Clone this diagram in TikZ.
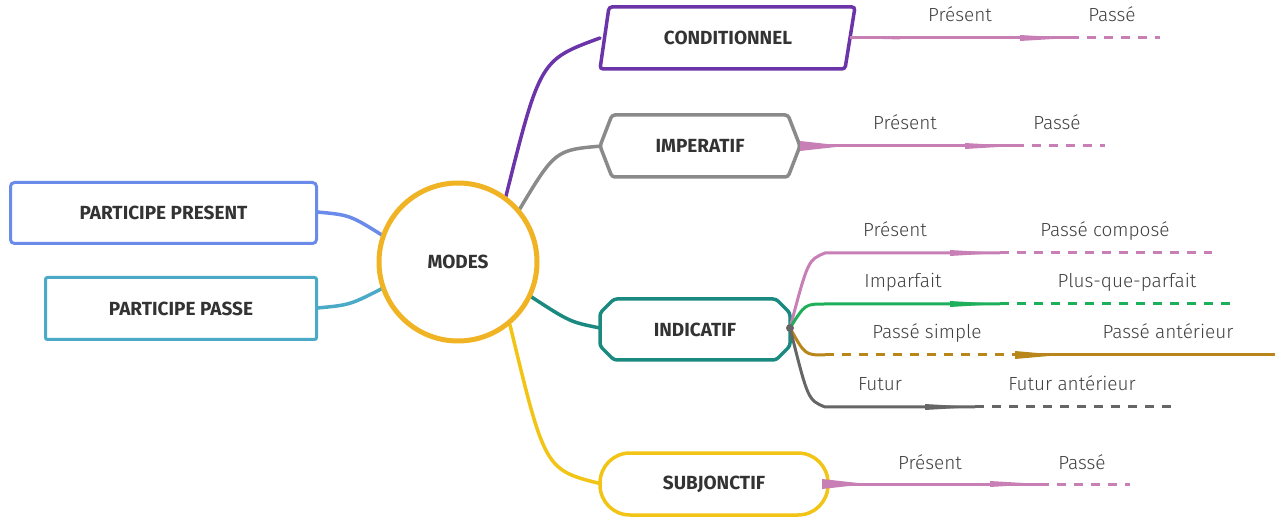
\documentclass[tikz,border=0pt]{standalone}
\usepackage{fontspec}
\setmainfont{Fira Sans}
\newfontfamily\lightf{Fira Sans Light}
\begin{document}
\begin{tikzpicture}[x=1pt,y=-1pt,
  hdr/.style={font=\fontsize{19}{22}\selectfont\bfseries, text=black!80},
  lbl/.style={font=\lightf\fontsize{19}{22}\selectfont, text=black!75, anchor=base},
  br/.style={line width=3.5pt, line cap=round},
  solidb/.style={line width=3pt},
  dashb/.style={line width=3pt, dash pattern=on 9pt off 8pt}]
\useasboundingbox (0,0) rectangle (1280,518);
\definecolor{orng}{HTML}{F0B323}
\definecolor{blu}{HTML}{6A8BEA}
\definecolor{cyn}{HTML}{4BAAC8}
\definecolor{purp}{HTML}{6B34A8}
\definecolor{gry}{HTML}{8A8A8A}
\definecolor{teal}{HTML}{1A8A80}
\definecolor{gold}{HTML}{F2C416}
\definecolor{pnk}{HTML}{C77FB5}
\definecolor{grn}{HTML}{1DAF5A}
\definecolor{brn}{HTML}{B8861A}
\definecolor{dgry}{HTML}{666666}
% connectors from center (drawn first)
\coordinate (c1) at (505,200);
\coordinate (c2) at (518,212);
\coordinate (c3) at (530,296);
\coordinate (c4) at (510,325);
\coordinate (c5) at (385,237);
\coordinate (c6) at (385,287);
\draw[br,purp] (c1) .. controls (540,60) .. (600,38);
\draw[br,gry] (c2) .. controls (555,150) .. (602,146);
\draw[br,teal] (c3) .. controls (570,322) .. (600,328);
\draw[br,gold] (c4) .. controls (545,470) .. (602,484);
\draw[br,blu] (c5) .. controls (350,215) .. (317,212);
\draw[br,cyn] (c6) .. controls (350,305) .. (317,308);
% center
\node[circle, draw=orng, line width=5pt, fill=white, minimum size=158pt, hdr] (modes) at (458,262) {MODES};
% left boxes
\node[draw=blu, line width=3pt, rounded corners=4pt, fill=white, minimum width=306pt, minimum height=61pt, hdr] (pp) at (163.5,213) {PARTICIPE PRESENT};
\node[draw=cyn, line width=3pt, rounded corners=2pt, fill=white, minimum width=271pt, minimum height=62pt, hdr] (ppa) at (181,308.5) {PARTICIPE PASSE};
% right shapes
\draw[purp, line width=3.5pt, rounded corners=3pt, fill=white] (609,7) -- (855,7) -- (845,69) -- (600,69) -- cycle;
\node[hdr] (cond) at (728,38) {CONDITIONNEL};
\draw[gry, line width=3.5pt, rounded corners=3pt, fill=white] (612,115) -- (788,115) -- (800,146) -- (788,177) -- (612,177) -- (600,146) -- cycle;
\node[hdr] (imp) at (700,146) {IMPERATIF};
\draw[teal, line width=3.5pt, rounded corners=3pt, fill=white] (614,299) -- (776,299) -- (790,313) -- (790,346) -- (776,360) -- (614,360) -- (600,346) -- (600,313) -- cycle;
\node[hdr] (ind) at (695,329.5) {INDICATIF};
\draw[gold, line width=3.5pt, fill=white, rounded corners=30pt] (600,453) rectangle (828,515);
\node[hdr] (sub) at (714,484) {SUBJONCTIF};
% branches: conditionnel
\fill[pnk] (850,38) -- (900,36.5) -- (900,39.5) -- cycle;
\draw[pnk, solidb] (850,38) -- (1070,38);
\fill[pnk] (1020,35) -- (1070,38) -- (1020,41) -- cycle;
\draw[pnk, dashb] (1070,38) -- (1160,38);
\node[lbl] at (960,22) {Présent};
\node[lbl] at (1112,22) {Passé};
% imperatif
\draw[pnk, solidb] (800,146) -- (1015,146);
\fill[pnk] (800,141) -- (845,146) -- (800,151) -- cycle;
\fill[pnk] (965,143) -- (1015,146) -- (965,149) -- cycle;
\draw[pnk, dashb] (1015,146) -- (1105,146);
\node[lbl] at (905,130) {Présent};
\node[lbl] at (1057,130) {Passé};
% subjonctif
\draw[pnk, solidb] (822,484) -- (1040,484);
\fill[pnk] (822,479) -- (867,484) -- (822,489) -- cycle;
\fill[pnk] (990,481) -- (1040,484) -- (990,487) -- cycle;
\draw[pnk, dashb] (1040,484) -- (1130,484);
\node[lbl] at (930,469) {Présent};
\node[lbl] at (1082,469) {Passé};
% indicatif
\coordinate (ir) at (790,328);
\draw[pnk, solidb] (ir) .. controls (808,260) .. (825,253) -- (1000,253);
\fill[pnk] (950,250) -- (1000,253) -- (950,256) -- cycle;
\draw[pnk, dashb] (1000,253) -- (1212,253);
\node[lbl] at (895,237) {Présent};
\node[lbl] at (1105,237) {Passé composé};
\draw[grn, solidb] (ir) .. controls (805,304) .. (825,304) -- (1000,304);
\fill[grn] (950,301) -- (1000,304) -- (950,307) -- cycle;
\draw[grn, dashb] (1000,304) -- (1230,304);
\node[lbl] at (903,288) {Imparfait};
\node[lbl] at (1127,288) {Plus-que-parfait};
\draw[brn, solidb] (ir) .. controls (805,355) .. (825,355);
\draw[brn, dashb] (825,355) -- (1015,355);
\draw[brn, solidb] (1015,355) -- (1275,355);
\fill[brn] (1015,351) -- (1060,355) -- (1015,359) -- cycle;
\node[lbl] at (927,339) {Passé simple};
\node[lbl] at (1168,339) {Passé antérieur};
\draw[dgry, solidb] (ir) .. controls (808,400) .. (825,407) -- (975,407);
\fill[dgry] (925,404) -- (975,407) -- (925,410) -- cycle;
\draw[dgry, dashb] (975,407) -- (1175,407);
\node[lbl] at (880,391) {Futur};
\node[lbl] at (1072,391) {Futur antérieur};
\fill[dgry] (ir) circle (4pt);
\end{tikzpicture}
\end{document}
